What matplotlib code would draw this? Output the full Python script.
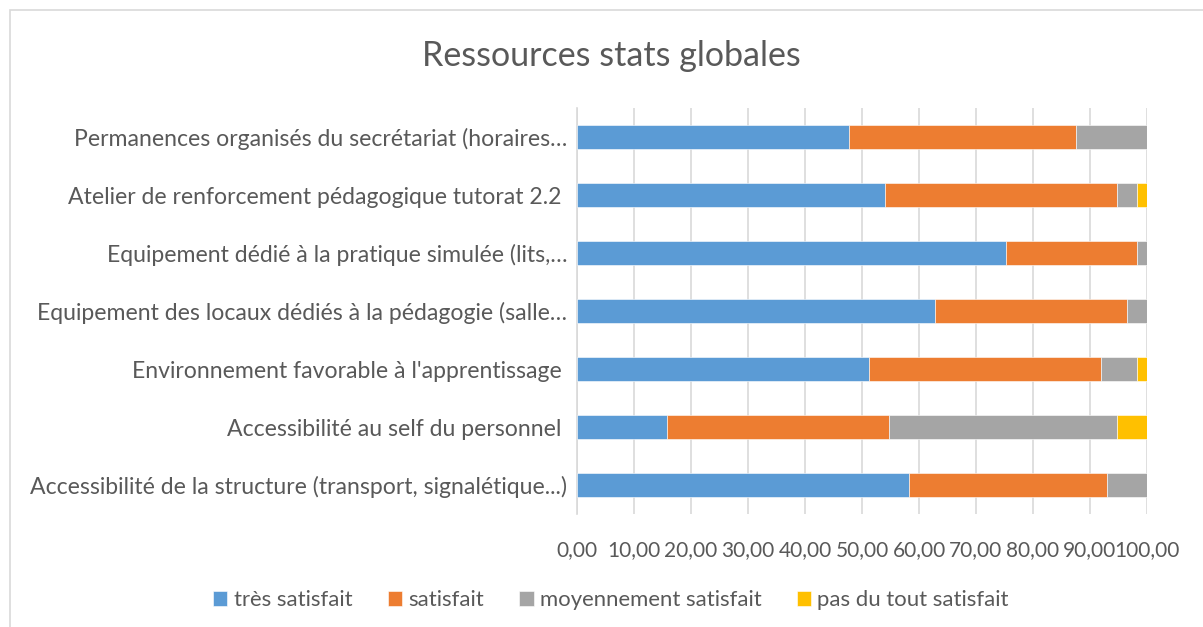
import matplotlib.pyplot as plt
from matplotlib.patches import Rectangle
import numpy as np

# categories, bottom to top as drawn
categories = [
    "Accessibilité de la structure (transport, signalétique...)",
    "Accessibilité au self du personnel ",
    "Environnement favorable à l'apprentissage ",
    "Equipement des locaux dédiés à la pédagogie (salle…",
    "Equipement dédié à la pratique simulée (lits,…",
    "Atelier de renforcement pédagogique tutorat 2.2 ",
    "Permanences organisés du secrétariat (horaires…",
]
tres_satisfait = [58.3, 15.8, 51.3, 62.8, 75.2, 54.0, 47.8]
satisfait = [34.6, 39.0, 40.7, 33.7, 23.1, 40.8, 39.8]
moyennement = [7.1, 40.0, 6.3, 3.5, 1.7, 3.5, 12.4]
pas_du_tout = [0.0, 5.2, 1.7, 0.0, 0.0, 1.7, 0.0]

series = [
    ("très satisfait", tres_satisfait, "#5B9BD5"),
    ("satisfait", satisfait, "#ED7D31"),
    ("moyennement satisfait", moyennement, "#A5A5A5"),
    ("pas du tout satisfait", pas_du_tout, "#FFC000"),
]
xticks = [0, 10, 20, 30, 40, 50, 60, 70, 80, 90, 100]
xtick_labels = ["0,00", "10,00", "20,00", "30,00", "40,00", "50,00",
                "60,00", "70,00", "80,00", "90,00", "100,00"]

plt.rcParams['font.family'] = ['Lato', 'DejaVu Sans']
txt = '#595959'

fig = plt.figure(figsize=(12.03, 6.27), dpi=100)
ax = fig.add_axes([577/1203, 1-514/627, 570/1203, 406/627])

y = np.arange(len(categories))
left = np.zeros(len(categories))
for name, vals, col in series:
    ax.barh(y, vals, left=left, height=0.42, color=col, label=name,
            edgecolor='white', linewidth=0.4, zorder=3)
    left += np.array(vals)

ax.set_xlim(0, 100)
ax.set_ylim(-0.5, len(categories) - 0.5)
ax.set_xticks(xticks)
ax.set_xticklabels(xtick_labels, fontsize=15, color=txt)
ax.set_yticks(y)
ax.set_yticklabels(categories, fontsize=16.6, color=txt)
ax.tick_params(axis='x', length=0, pad=19)
ax.tick_params(axis='y', length=0, pad=7)
ax.grid(axis='x', color='#D9D9D9', linewidth=1.2, zorder=0)
for s in ['top', 'right', 'bottom']:
    ax.spines[s].set_visible(False)
ax.spines['left'].set_color('#D9D9D9')
ax.spines['left'].set_linewidth(1.2)

fig.text(611/1203, 1-56/627, "Ressources stats globales", ha='center',
         va='center', fontsize=24.5, color=txt)

fig.legend(loc='center', bbox_to_anchor=(611/1203, 1-600/627), ncol=4,
           frameon=False, fontsize=15.9, labelcolor=txt, handlelength=0.65,
           handleheight=0.65, handletextpad=0.28, columnspacing=1.6)

fig.patches.append(Rectangle((10/1203, -0.1), 1.2, 1.1 - 10/627,
                             transform=fig.transFigure, fill=False,
                             edgecolor='#D9D9D9', linewidth=1.2))

plt.savefig('out.png')
